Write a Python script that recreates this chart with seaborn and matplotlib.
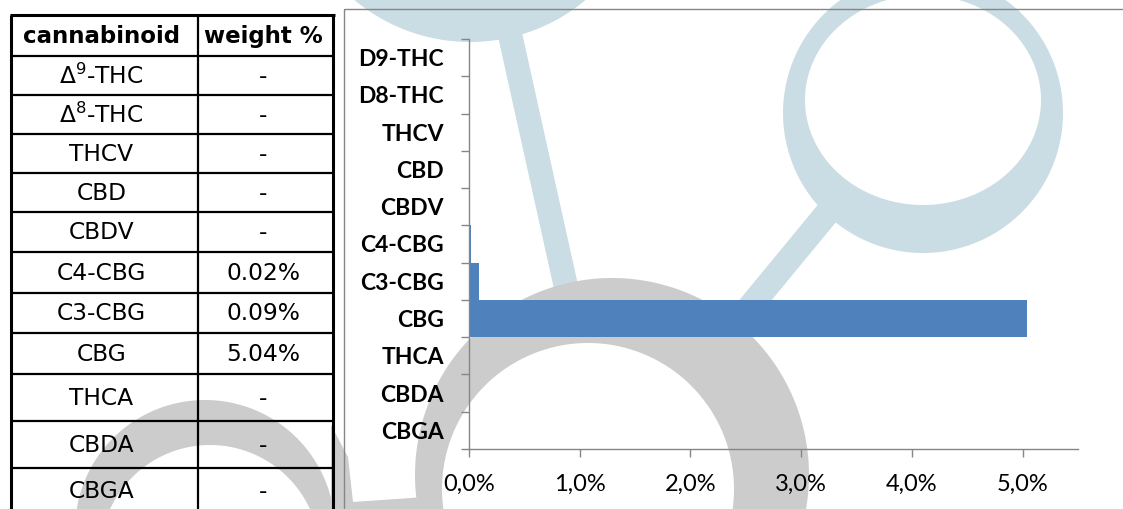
import numpy as np
import pandas as pd
import seaborn as sns
import matplotlib.pyplot as plt
from matplotlib.path import Path
from matplotlib.patches import PathPatch, Rectangle, Polygon
from matplotlib.ticker import FuncFormatter, FixedLocator

# data
table_names = [r'$\mathregular{\Delta^9}$-THC', r'$\mathregular{\Delta^8}$-THC', 'THCV', 'CBD', 'CBDV',
               'C4-CBG', 'C3-CBG', 'CBG', 'THCA', 'CBDA', 'CBGA']
chart_names = ['D9-THC', 'D8-THC', 'THCV', 'CBD', 'CBDV',
               'C4-CBG', 'C3-CBG', 'CBG', 'THCA', 'CBDA', 'CBGA']
weight_pct = [None, None, None, None, None, 0.02, 0.09, 5.04, None, None, None]
x_ticks = [0.0, 0.01, 0.02, 0.03, 0.04, 0.05]

df = pd.DataFrame({'name': chart_names,
                   'weight': [(v or 0) / 100 for v in weight_pct]})

sns.set_theme(style='white')
plt.rcParams['font.family'] = ['Lato', 'DejaVu Sans']
plt.rcParams['text.color'] = 'black'

W, H = 1123, 509
fig = plt.figure(figsize=(W / 100, H / 100), dpi=100)

# background layer in pixel coordinates (watermark + table)
bg = fig.add_axes([0, 0, 1, 1])
bg.set_xlim(0, W)
bg.set_ylim(H, 0)
bg.axis('off')

BLUE = '#CBDDE4'
GRAY = '#CCCCCC'


def ring(ax, c_out, r_out, c_in, r_in, color, n=240):
    t = np.linspace(0, 2 * np.pi, n)
    rx, ry = (r_in, r_in) if np.isscalar(r_in) else r_in
    outer = np.column_stack([c_out[0] + r_out * np.cos(t), c_out[1] + r_out * np.sin(t)])
    inner = np.column_stack([c_in[0] + rx * np.cos(t[::-1]), c_in[1] + ry * np.sin(t[::-1])])
    codes = ([Path.MOVETO] + [Path.LINETO] * (n - 1)) * 2
    ax.add_patch(PathPatch(Path(np.vstack([outer, inner]), codes), fc=color, ec='none', zorder=0))


# magnifying glasses
bg.plot([509, 570], [30, 305], color=BLUE, lw=17.5, solid_capstyle='butt', zorder=0)
ring(bg, (470, -138), 180, (470, -150), 148, BLUE)
bg.plot([838, 735], [200, 325], color=BLUE, lw=18, solid_capstyle='butt', zorder=0)
ring(bg, (923, 113), 140, (923, 100), (118, 105), BLUE)
# grey figures
ring(bg, (612, 475), 197, (588, 489), 146, GRAY)
ring(bg, (205, 530), 130, (210, 555), 110, GRAY)
bg.add_patch(Polygon([(331, 425), (348, 457), (353, 502), (425, 497), (432, 509), (331, 509)],
                     fc=GRAY, ec='none', zorder=0))

# chart frame
bg.add_patch(Rectangle((344, 9), 800, 520, fc='none', ec='#868686', lw=1.0, zorder=2))

# table
row_lines = [14.5, 56, 95, 134, 173, 212, 251.5, 293, 333, 374, 421, 467.5]
x_left, x_mid, x_right = 11, 198, 333
for y in row_lines:
    bg.plot([x_left - 1.5, x_right + 1.5], [y, y], color='black',
            lw=2.2 if y == row_lines[0] else 1.6, zorder=3, solid_capstyle='butt')
for x in [x_left, x_mid, x_right]:
    bg.plot([x, x], [row_lines[0], H + 5], color='black',
            lw=1.6 if x == x_mid else 2.2, zorder=3, solid_capstyle='butt')

bounds = row_lines + [513]
cx1, cx2 = (x_left + x_mid) / 2 - 3, (x_mid + x_right) / 2 - 2
yc = (bounds[0] + bounds[1]) / 2 + 1
bg.text(cx1, yc, 'cannabinoid', ha='center', va='center', fontsize=16.5,
        fontweight='bold', family='DejaVu Sans', zorder=4)
bg.text(cx2, yc, 'weight %', ha='center', va='center', fontsize=16.5,
        fontweight='bold', family='DejaVu Sans', zorder=4)
for i, (name, val) in enumerate(zip(table_names, weight_pct)):
    yc = (bounds[i + 1] + bounds[i + 2]) / 2 + 1
    bg.text(cx1, yc, name, ha='center', va='center', fontsize=16.8,
            family='DejaVu Sans', zorder=4)
    bg.text(cx2, yc, '-' if val is None else f'{val:.2f}%', ha='center', va='center',
            fontsize=16.8, family='DejaVu Sans', zorder=4)

# bar chart
ax = fig.add_axes([469 / W, (H - 449) / H, (1078 - 469) / W, (449 - 39) / H])
ax.set_facecolor('none')
ax.set_zorder(5)
sns.barplot(data=df, x='weight', y='name', orient='h', color='#4F81BD',
            width=1.0, edgecolor='none', saturation=1, ax=ax)
ax.set_xlim(0, 0.055)
ax.set_ylim(len(chart_names) - 0.5, -0.5)
ax.set_xlabel('')
ax.set_ylabel('')
ax.xaxis.set_major_locator(FixedLocator(x_ticks))
ax.xaxis.set_major_formatter(FuncFormatter(lambda v, p: f'{v * 100:.1f}%'.replace('.', ',')))
ax.yaxis.set_minor_locator(FixedLocator(np.arange(-0.5, len(chart_names), 1.0)))

for s in ['top', 'right']:
    ax.spines[s].set_visible(False)
for s in ['left', 'bottom']:
    ax.spines[s].set_color('#868686')
    ax.spines[s].set_linewidth(1.0)

ax.tick_params(axis='y', which='major', length=0, pad=18, labelsize=16.5, labelcolor='black')
ax.tick_params(axis='y', which='minor', left=True, length=6, width=1.0, color='#868686', direction='out')
ax.tick_params(axis='x', which='major', bottom=True, length=6, width=1.0, color='#868686',
               direction='out', pad=12, labelsize=17, labelcolor='black')
for lab in ax.get_yticklabels():
    lab.set_fontweight('bold')

fig.savefig('out.png', dpi=100)
